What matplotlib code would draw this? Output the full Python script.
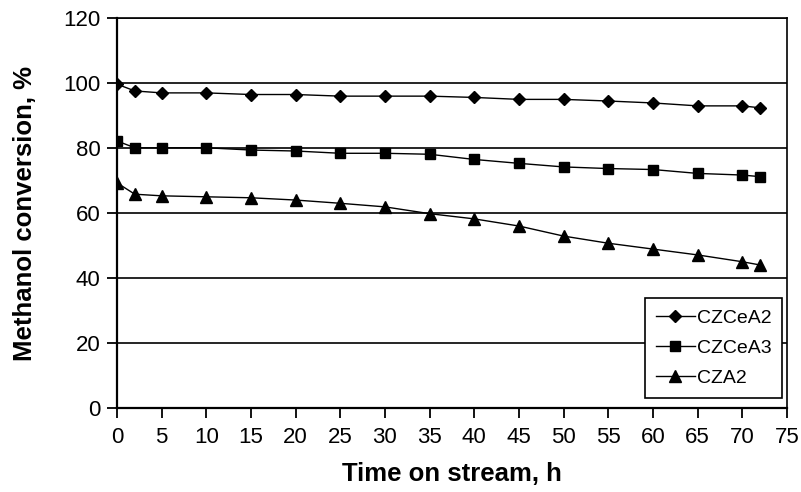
import matplotlib.pyplot as plt

plt.rcParams['font.family'] = ['Liberation Sans', 'DejaVu Sans']

# data
time_h = [0, 2, 5, 10, 15, 20, 25, 30, 35, 40, 45, 50, 55, 60, 65, 70, 72]
czcea2 = [99.7, 97.6, 97.0, 97.0, 96.5, 96.5, 96.0, 96.0, 96.0, 95.6, 95.0,
          95.0, 94.5, 93.9, 93.0, 93.0, 92.4]
czcea3 = [82.2, 80.1, 80.1, 80.1, 79.4, 79.1, 78.4, 78.4, 78.1, 76.5, 75.3,
          74.2, 73.7, 73.4, 72.2, 71.7, 71.2]
cza2 = [69.3, 65.8, 65.3, 65.0, 64.7, 64.0, 63.0, 61.9, 59.8, 58.2, 56.0,
        52.9, 50.7, 48.9, 47.1, 45.0, 44.0]

x_ticks = list(range(0, 80, 5))
y_ticks = list(range(0, 140, 20))

fig = plt.figure(figsize=(8.01, 4.92), dpi=100)
ax = fig.add_axes([0.146, 0.171, 0.8365, 0.792])

ax.plot(time_h, czcea2, color='black', lw=1.0, marker='D', ms=6.5, label='CZCeA2')
ax.plot(time_h, czcea3, color='black', lw=1.0, marker='s', ms=7, label='CZCeA3')
ax.plot(time_h, cza2, color='black', lw=1.0, marker='^', ms=8, label='CZA2')

ax.set_xlim(0, 75)
ax.set_ylim(0, 120)
ax.set_xticks(x_ticks)
ax.set_yticks(y_ticks)
ax.grid(axis='y', color='black', lw=1.2)
ax.set_axisbelow(True)
for s in ax.spines.values():
    s.set_linewidth(1.2)
ax.spines['left'].set_linewidth(1.6)
ax.spines['bottom'].set_linewidth(1.6)
ax.tick_params(direction='out', length=7, width=1.3, labelsize=16, colors='black')
ax.tick_params(axis='x', pad=7)
ax.tick_params(axis='y', pad=5)

ax.set_xlabel('Time on stream, h', fontsize=18.5, fontweight='bold', va='center')
ax.set_ylabel('Methanol conversion, %', fontsize=18.5, fontweight='bold', va='center')
ax.xaxis.set_label_coords(0.5, -0.169)
ax.yaxis.set_label_coords(-0.137, 0.5)

leg = ax.legend(loc='lower right', bbox_to_anchor=(0.9925, 0.026), fontsize=14,
                frameon=True, fancybox=False, edgecolor='black', framealpha=1,
                handlelength=2.0, handletextpad=0.1, borderpad=0.55, labelspacing=0.65,
                borderaxespad=0)
leg.get_frame().set_linewidth(1.2)

fig.savefig('out.png', dpi=100)
